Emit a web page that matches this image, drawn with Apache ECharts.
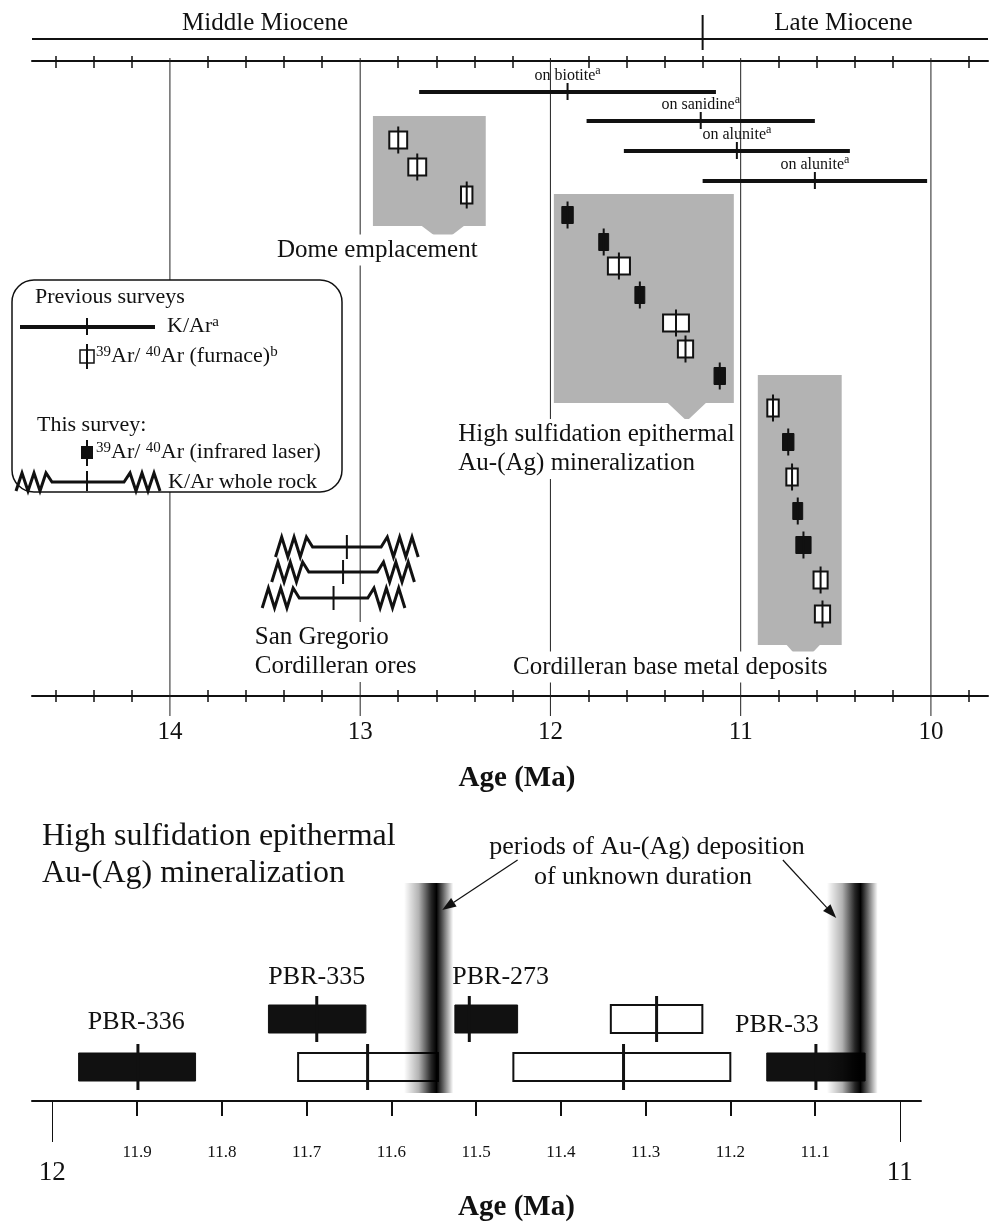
<!DOCTYPE html>
<html>
<head>
<meta charset="utf-8">
<script src="https://cdn.jsdelivr.net/npm/echarts@6/dist/echarts.min.js"></script>
<style>
html, body { margin: 0; padding: 0; background: #fff; }
#chart { width: 990px; height: 1225px; }
</style>
</head>
<body>
<div id="chart"></div>
<script>
const FONT = '"Liberation Serif", "Times New Roman", serif'
const INK = '#111'

// ---------- top panel: axis ----------
const topMajorTicks = [14, 13, 12, 11, 10]
const topMinorTicks = [14.6, 14.4, 14.2, 13.8, 13.6, 13.4, 13.2, 12.8, 12.6, 12.4, 12.2,
  11.8, 11.6, 11.4, 11.2, 10.8, 10.6, 10.4, 10.2, 9.8]
const epochNames = ['Middle Miocene', 'Late Miocene']
const epochLabelAge = [13.5, 10.46]
const epochBoundary = [11.2]

// previous surveys, K/Ar (age, ± error, level on hidden y axis)
const kArMineral = ['on biotite', 'on sanidine', 'on alunite', 'on alunite']
const kArAge = [11.91, 11.21, 11.02, 10.61]
const kArErr = [0.78, 0.6, 0.594, 0.59]
const kArLevel = [31, 60, 90, 120]

// 39Ar/40Ar ages: furnace (previous) and infrared laser (this survey)
const arArMethod = ['furnace', 'furnace', 'furnace',
  'laser', 'laser', 'furnace', 'laser', 'furnace', 'furnace', 'laser',
  'furnace', 'laser', 'furnace', 'laser', 'laser', 'furnace', 'furnace']
const arArAge = [12.80, 12.70, 12.44,
  11.91, 11.72, 11.64, 11.53, 11.34, 11.29, 11.11,
  10.83, 10.75, 10.73, 10.70, 10.67, 10.58, 10.57]
const arArErr = [0.047, 0.047, 0.03,
  0.03, 0.026, 0.058, 0.026, 0.068, 0.04, 0.03,
  0.03, 0.03, 0.03, 0.026, 0.04, 0.037, 0.04]
const arArLevel = [79, 106, 134,
  154, 181, 205, 234, 262, 288, 315,
  347, 381, 416, 450, 484, 519, 553]

// K/Ar whole rock (San Gregorio)
const wholeRockAge = [13.07, 13.09, 13.14]
const wholeRockErr = [0.18, 0.18, 0.18]
const wholeRockLevel = [486, 511, 537]

// shaded groups: age span, level span, pointer (left, apex, right) and apex level
const groupOlder = [12.933, 11.982, 10.91]
const groupYounger = [12.34, 11.036, 10.469]
const groupTop = [55, 133, 314]
const groupBottom = [165, 342, 584]
const pointerLeft = [12.676, 11.383, 10.758]
const pointerApex = [12.565, 11.283, 10.674]
const pointerRight = [12.455, 11.183, 10.584]
const pointerLevel = [181, 360, 602]

const noteText = ['Dome emplacement', 'High sulfidation epithermal\nAu-(Ag) mineralization',
  'Cordilleran base metal deposits', 'San Gregorio\nCordilleran ores']
const noteAge = [12.91, 12.5, 11.37, 13.57]
const noteLevel = [189, 388, 606, 591]
const noteAlign = ['center', 'left', 'center', 'left']

// ---------- bottom panel ----------
const bottomMajorTicks = [12, 11]
const bottomMinorTicks = [11.9, 11.8, 11.7, 11.6, 11.5, 11.4, 11.3, 11.2, 11.1]

const hsMethod = ['laser', 'laser', 'furnace', 'laser', 'furnace', 'furnace', 'laser']
const hsAge = [11.688, 11.508, 11.287, 11.899, 11.628, 11.326, 11.099]
const hsOlder = [11.745, 11.525, 11.341, 11.969, 11.710, 11.456, 11.157]
const hsYounger = [11.630, 11.451, 11.233, 11.831, 11.545, 11.200, 11.041]
const hsLevel = [136, 136, 136, 184, 184, 184, 184]

const sampleName = ['PBR-336', 'PBR-335', 'PBR-273', 'PBR-33']
const sampleLabelAge = [11.901, 11.688, 11.471, 11.145]
const sampleLabelLevel = [139, 94, 94, 142]

const depositAge = [11.556, 11.056]
const depositHalf = [0.029, 0.03]

const arrowFrom = [[11.451, -23], [11.138, -23]]
const arrowTo = [[11.540, 27], [11.075, 35]]

const chart = echarts.init(document.getElementById('chart'))

// zigzag from the outer end to the inner end (line level), peaks alternate
function zigzagLeft(xOut, xIn, y, amp) {
  const pts = []
  const d = (xIn - xOut) / 6
  for (let k = 0; k < 6; k++) pts.push([xOut + k * d, y + (k % 2 === 0 ? amp : -amp)])
  pts.push([xIn, y])
  return pts
}
function zigzagRight(xIn, xOut, y, amp) {
  const pts = [[xIn, y]]
  const d = (xOut - xIn) / 6
  for (let k = 1; k <= 6; k++) pts.push([xIn + k * d, y + ((6 - k) % 2 === 0 ? amp : -amp)])
  return pts
}

function supRich(size, raise) {
  return { s: { fontSize: size, fontFamily: FONT, fill: INK, verticalAlign: 'top', padding: [0, 0, raise, 0] } }
}

const topAxisBase = {
  gridIndex: 0, type: 'value', min: 9.7, max: 14.725, inverse: true,
  splitLine: { show: false }, axisLabel: { show: false }
}
const bottomAxisBase = {
  gridIndex: 1, type: 'value', min: 10.975, max: 12.024, inverse: true,
  splitLine: { show: false }, axisLabel: { show: false }
}

const option = {
  animation: false,
  backgroundColor: '#fff',
  textStyle: { fontFamily: FONT },
  grid: [
    { left: 32, width: 956, top: 61, height: 635 },
    { left: 32, width: 889, top: 883, height: 218 }
  ],
  xAxis: [
    Object.assign({}, topAxisBase, {
      position: 'bottom',
      axisLine: { onZero: false, lineStyle: { color: INK, width: 2 } },
      axisTick: { customValues: topMinorTicks, length: 6, lineStyle: { color: INK, width: 1.5 } },
      axisLabel: { show: true, customValues: topMajorTicks, margin: 24, fontSize: 25, color: INK, fontFamily: FONT },
      name: 'Age (Ma)', nameLocation: 'middle', nameGap: 68,
      nameTextStyle: { fontSize: 29, fontWeight: 'bold', color: INK, fontFamily: FONT, padding: [0, 0, 0, 14] }
    }),
    Object.assign({}, topAxisBase, {
      position: 'bottom', axisLine: { show: false, onZero: false },
      axisTick: { customValues: topMinorTicks, inside: true, length: 6, lineStyle: { color: INK, width: 1.5 } }
    }),
    Object.assign({}, topAxisBase, {
      position: 'top',
      axisLine: { onZero: false, lineStyle: { color: INK, width: 2 } },
      axisTick: { customValues: topMinorTicks, length: 5, lineStyle: { color: INK, width: 1.5 } }
    }),
    Object.assign({}, topAxisBase, {
      position: 'top', axisLine: { show: false, onZero: false },
      axisTick: { customValues: topMinorTicks, inside: true, length: 7, lineStyle: { color: INK, width: 1.5 } }
    }),
    Object.assign({}, bottomAxisBase, {
      position: 'bottom',
      axisLine: { onZero: false, lineStyle: { color: INK, width: 2 } },
      axisTick: { customValues: bottomMinorTicks, length: 15, lineStyle: { color: INK, width: 2 } },
      axisLabel: { show: true, customValues: bottomMinorTicks, margin: 43, fontSize: 17, color: INK, fontFamily: FONT,
        formatter: v => Number(v).toFixed(1) },
      name: 'Age (Ma)', nameLocation: 'middle', nameGap: 92,
      nameTextStyle: { fontSize: 29, fontWeight: 'bold', color: INK, fontFamily: FONT, padding: [0, 0, 0, 80] }
    }),
    Object.assign({}, bottomAxisBase, {
      position: 'bottom', axisLine: { show: false, onZero: false },
      axisTick: { customValues: bottomMajorTicks, length: 41, lineStyle: { color: INK, width: 1 } },
      axisLabel: { show: true, customValues: bottomMajorTicks, margin: 58, fontSize: 27, color: INK, fontFamily: FONT }
    })
  ],
  yAxis: [
    { gridIndex: 0, type: 'value', min: 0, max: 635, inverse: true, show: false },
    { gridIndex: 1, type: 'value', min: 0, max: 218, inverse: true, show: false }
  ],
  graphic: { elements: [] },
  series: []
}

// ---------- top panel series ----------
const topCustom = (extra) => Object.assign({
  type: 'custom', xAxisIndex: 0, yAxisIndex: 0, silent: true, clip: false
}, extra)

// whole-Ma grid lines
option.series.push(topCustom({
  z: 1,
  data: topMajorTicks.map(v => [v, 0]),
  renderItem: (p, api) => {
    const a = api.coord([api.value(0), -3])
    const b = api.coord([api.value(0), 655])
    return { type: 'line', shape: { x1: a[0], y1: a[1], x2: b[0], y2: b[1] }, style: { stroke: '#222', lineWidth: 1 } }
  }
}))

// epoch band: boundary line, boundary tick and names
option.series.push(topCustom({
  z: 2,
  data: epochBoundary.map(v => [v, -22]),
  renderItem: (p, api) => {
    const l = api.coord([14.725, api.value(1)])
    const r = api.coord([9.7, api.value(1)])
    const t0 = api.coord([api.value(0), -46])
    const t1 = api.coord([api.value(0), -11])
    return { type: 'group', children: [
      { type: 'line', shape: { x1: l[0], y1: l[1], x2: r[0], y2: r[1] }, style: { stroke: INK, lineWidth: 2 } },
      { type: 'line', shape: { x1: t0[0], y1: t0[1], x2: t1[0], y2: t1[1] }, style: { stroke: INK, lineWidth: 2 } }
    ] }
  }
}))
option.series.push(topCustom({
  z: 2,
  data: epochLabelAge.map(v => [v, -38]),
  renderItem: (p, api) => {
    const c = api.coord([api.value(0), api.value(1)])
    return { type: 'text', x: c[0], y: c[1], style: {
      text: epochNames[p.dataIndex], font: '25px ' + FONT, fill: INK, align: 'center', verticalAlign: 'middle' } }
  }
}))

// grey group boxes with pointer
option.series.push(topCustom({
  z: 2,
  data: groupOlder.map((v, i) => [v, groupTop[i]]),
  renderItem: (p, api) => {
    const i = p.dataIndex
    const pts = [
      [groupOlder[i], groupTop[i]], [groupYounger[i], groupTop[i]],
      [groupYounger[i], groupBottom[i]], [pointerRight[i], groupBottom[i]],
      [pointerApex[i], pointerLevel[i]], [pointerLeft[i], groupBottom[i]],
      [groupOlder[i], groupBottom[i]]
    ].map(q => api.coord(q))
    return { type: 'polygon', shape: { points: pts }, style: { fill: '#b3b3b3' } }
  }
}))

// annotation texts (white backing hides grid lines)
option.series.push(topCustom({
  z: 3,
  data: noteAge.map((v, i) => [v, noteLevel[i]]),
  renderItem: (p, api) => {
    const c = api.coord([api.value(0), api.value(1)])
    return { type: 'text', x: c[0], y: c[1], style: {
      text: noteText[p.dataIndex], font: '25px ' + FONT, fill: INK, lineHeight: 29,
      align: noteAlign[p.dataIndex], verticalAlign: 'middle', backgroundColor: '#fff', padding: [1, 3] } }
  }
}))

// K/Ar (previous surveys)
option.series.push(topCustom({
  z: 4,
  data: kArAge.map((v, i) => [v, kArLevel[i], kArErr[i]]),
  renderItem: (p, api) => {
    const age = api.value(0), lvl = api.value(1), err = api.value(2)
    const l = api.coord([age + err, lvl]), r = api.coord([age - err, lvl]), c = api.coord([age, lvl])
    return { type: 'group', children: [
      { type: 'line', shape: { x1: l[0], y1: l[1], x2: r[0], y2: r[1] }, style: { stroke: INK, lineWidth: 4 } },
      { type: 'line', shape: { x1: c[0], y1: c[1] - 9, x2: c[0], y2: c[1] + 8 }, style: { stroke: INK, lineWidth: 2 } },
      { type: 'text', x: c[0], y: c[1] - 16, style: {
        text: kArMineral[p.dataIndex] + '{s|a}', font: '16px ' + FONT, fill: INK,
        align: 'center', verticalAlign: 'middle', rich: supRich(12, 10) } }
    ] }
  }
}))

// 39Ar/40Ar boxes
option.series.push(topCustom({
  z: 4,
  data: arArAge.map((v, i) => [v, arArLevel[i], arArErr[i]]),
  renderItem: (p, api) => {
    const age = api.value(0), lvl = api.value(1), err = api.value(2)
    const open = arArMethod[p.dataIndex] === 'furnace'
    const l = api.coord([age + err, lvl]), r = api.coord([age - err, lvl]), c = api.coord([age, lvl])
    return { type: 'group', children: [
      { type: 'rect', shape: { x: l[0], y: c[1] - 8.5, width: r[0] - l[0], height: 17 },
        style: { fill: open ? '#fff' : INK, stroke: INK, lineWidth: open ? 2 : 1 } },
      { type: 'line', shape: { x1: c[0], y1: c[1] - 13.5, x2: c[0], y2: c[1] + 13.5 }, style: { stroke: INK, lineWidth: 2 } }
    ] }
  }
}))

// K/Ar whole rock with zigzag ends
option.series.push(topCustom({
  z: 4,
  data: wholeRockAge.map((v, i) => [v, wholeRockLevel[i], wholeRockErr[i]]),
  renderItem: (p, api) => {
    const age = api.value(0), lvl = api.value(1), err = api.value(2)
    const zig = 0.195
    const lo = api.coord([age + err + zig, lvl]), li = api.coord([age + err, lvl])
    const ri = api.coord([age - err, lvl]), ro = api.coord([age - err - zig, lvl])
    const c = api.coord([age, lvl])
    const pts = zigzagLeft(lo[0], li[0], c[1], 10).concat(zigzagRight(ri[0], ro[0], c[1], 10))
    return { type: 'group', children: [
      { type: 'polyline', shape: { points: pts }, style: { stroke: INK, lineWidth: 3, fill: null } },
      { type: 'line', shape: { x1: c[0], y1: c[1] - 12, x2: c[0], y2: c[1] + 12 }, style: { stroke: INK, lineWidth: 2 } }
    ] }
  }
}))

// ---------- bottom panel series ----------
const botCustom = (extra) => Object.assign({
  type: 'custom', xAxisIndex: 4, yAxisIndex: 1, silent: true, clip: false
}, extra)

option.series.push(botCustom({
  z: 4,
  data: hsAge.map((v, i) => [v, hsLevel[i], hsOlder[i], hsYounger[i]]),
  renderItem: (p, api) => {
    const lvl = api.value(1)
    const open = hsMethod[p.dataIndex] === 'furnace'
    const l = api.coord([api.value(2), lvl]), r = api.coord([api.value(3), lvl]), c = api.coord([api.value(0), lvl])
    return { type: 'group', children: [
      { type: 'rect', shape: { x: l[0], y: c[1] - 14, width: r[0] - l[0], height: 28 },
        style: { fill: open ? '#fff' : INK, stroke: INK, lineWidth: open ? 2 : 1 } },
      { type: 'line', shape: { x1: c[0], y1: c[1] - 23, x2: c[0], y2: c[1] + 23 }, style: { stroke: INK, lineWidth: 3 } }
    ] }
  }
}))

// periods of deposition of unknown duration
option.series.push(botCustom({
  z: 5,
  data: depositAge.map((v, i) => [v, 0, depositHalf[i]]),
  renderItem: (p, api) => {
    const age = api.value(0), h = api.value(2)
    const a = api.coord([age + h, 0]), b = api.coord([age - h, 210])
    return { type: 'rect', shape: { x: a[0], y: a[1], width: b[0] - a[0], height: b[1] - a[1] },
      style: { fill: new echarts.graphic.LinearGradient(0, 0, 1, 0, [
        { offset: 0, color: 'rgba(0,0,0,0)' },
        { offset: 0.3, color: 'rgba(0,0,0,0.3)' },
        { offset: 0.55, color: 'rgba(0,0,0,0.85)' },
        { offset: 0.66, color: 'rgba(0,0,0,1)' },
        { offset: 0.8, color: 'rgba(0,0,0,0.6)' },
        { offset: 1, color: 'rgba(0,0,0,0)' }
      ]) } }
  }
}))

option.series.push(botCustom({
  z: 4,
  data: sampleLabelAge.map((v, i) => [v, sampleLabelLevel[i]]),
  renderItem: (p, api) => {
    const c = api.coord([api.value(0), api.value(1)])
    return { type: 'text', x: c[0], y: c[1], style: {
      text: sampleName[p.dataIndex], font: '26px ' + FONT, fill: INK, align: 'center', verticalAlign: 'middle' } }
  }
}))

option.series.push(botCustom({
  z: 6,
  data: arrowFrom.map((f, i) => [f[0], f[1], arrowTo[i][0], arrowTo[i][1]]),
  renderItem: (p, api) => {
    const s = api.coord([api.value(0), api.value(1)])
    const t = api.coord([api.value(2), api.value(3)])
    const dx = t[0] - s[0], dy = t[1] - s[1], len = Math.hypot(dx, dy)
    const ux = dx / len, uy = dy / len
    const bx = t[0] - ux * 14, by = t[1] - uy * 14
    return { type: 'group', children: [
      { type: 'line', shape: { x1: s[0], y1: s[1], x2: bx, y2: by }, style: { stroke: INK, lineWidth: 1.2 } },
      { type: 'polygon', shape: { points: [t, [bx - uy * 5, by + ux * 5], [bx + uy * 5, by - ux * 5]] }, style: { fill: INK } }
    ] }
  }
}))

// ---------- titles and legend ----------
const g = option.graphic.elements
g.push({ type: 'text', x: 42, y: 837, z: 10, style: { text: 'High sulfidation epithermal', font: '32px ' + FONT, fill: INK, verticalAlign: 'middle' } })
g.push({ type: 'text', x: 42, y: 874, z: 10, style: { text: 'Au-(Ag) mineralization', font: '32px ' + FONT, fill: INK, verticalAlign: 'middle' } })
g.push({ type: 'text', x: 647, y: 847, z: 10, style: { text: 'periods of Au-(Ag) deposition', font: '26px ' + FONT, fill: INK, align: 'center', verticalAlign: 'middle' } })
g.push({ type: 'text', x: 643, y: 877, z: 10, style: { text: 'of unknown duration', font: '26px ' + FONT, fill: INK, align: 'center', verticalAlign: 'middle' } })

g.push({ type: 'rect', z: 10, shape: { x: 12, y: 280, width: 330, height: 212, r: 22 }, style: { fill: '#fff', stroke: INK, lineWidth: 1.5 } })
g.push({ type: 'text', x: 35, y: 297, z: 11, style: { text: 'Previous surveys', font: '22px ' + FONT, fill: INK, verticalAlign: 'middle' } })
g.push({ type: 'line', z: 11, shape: { x1: 20, y1: 327, x2: 155, y2: 327 }, style: { stroke: INK, lineWidth: 4 } })
g.push({ type: 'line', z: 11, shape: { x1: 87, y1: 318, x2: 87, y2: 335 }, style: { stroke: INK, lineWidth: 2 } })
g.push({ type: 'text', x: 167, y: 326, z: 11, style: { text: 'K/Ar{s|a}', font: '22px ' + FONT, fill: INK, verticalAlign: 'middle', rich: supRich(15, 6) } })
g.push({ type: 'rect', z: 11, shape: { x: 80, y: 350, width: 14, height: 13 }, style: { fill: '#fff', stroke: INK, lineWidth: 1.5 } })
g.push({ type: 'line', z: 11, shape: { x1: 87, y1: 344, x2: 87, y2: 369 }, style: { stroke: INK, lineWidth: 2 } })
g.push({ type: 'text', x: 96, y: 356, z: 11, style: { text: '{s|39}Ar/ {s|40}Ar (furnace){s|b}', font: '22px ' + FONT, fill: INK, verticalAlign: 'middle', rich: supRich(15, 6) } })
g.push({ type: 'text', x: 37, y: 425, z: 11, style: { text: 'This survey:', font: '22px ' + FONT, fill: INK, verticalAlign: 'middle' } })
g.push({ type: 'rect', z: 11, shape: { x: 81, y: 446, width: 12, height: 13 }, style: { fill: INK } })
g.push({ type: 'line', z: 11, shape: { x1: 87, y1: 440, x2: 87, y2: 466 }, style: { stroke: INK, lineWidth: 2 } })
g.push({ type: 'text', x: 96, y: 452, z: 11, style: { text: '{s|39}Ar/ {s|40}Ar (infrared laser)', font: '22px ' + FONT, fill: INK, verticalAlign: 'middle', rich: supRich(15, 6) } })
g.push({ type: 'polyline', z: 11, shape: { points: zigzagLeft(16, 52, 482, 9).concat(zigzagRight(124, 160, 482, 9)) }, style: { stroke: INK, lineWidth: 3, fill: null } })
g.push({ type: 'line', z: 11, shape: { x1: 87, y1: 471, x2: 87, y2: 491 }, style: { stroke: INK, lineWidth: 2 } })
g.push({ type: 'text', x: 168, y: 482, z: 11, style: { text: 'K/Ar whole rock', font: '22px ' + FONT, fill: INK, verticalAlign: 'middle' } })

chart.setOption(option)
</script>
</body>
</html>
